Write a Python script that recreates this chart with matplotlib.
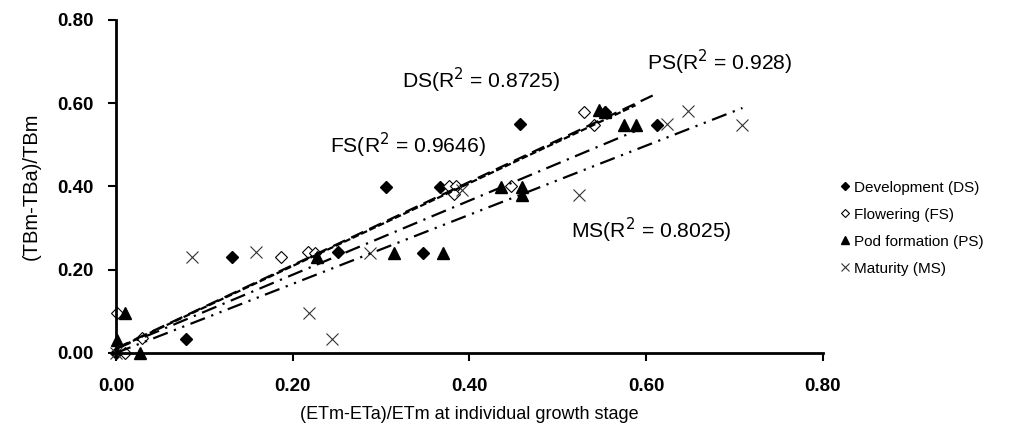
import matplotlib

matplotlib.use("Agg")
import matplotlib.pyplot as plt
import numpy as np

plt.rcParams["font.family"] = ["Liberation Sans", "DejaVu Sans"]

# observed points per growth stage: x = (ETm-ETa)/ETm, y = (TBm-TBa)/TBm
ds_x = [0.0, 0.079, 0.131, 0.251, 0.306, 0.347, 0.367, 0.457, 0.553, 0.612]
ds_y = [0.0, 0.033, 0.231, 0.243, 0.398, 0.239, 0.398, 0.549, 0.580, 0.547]

fs_x = [0.001, 0.010, 0.030, 0.187, 0.217, 0.225, 0.377, 0.385, 0.383, 0.447, 0.530, 0.541]
fs_y = [0.097, 0.000, 0.035, 0.231, 0.243, 0.240, 0.400, 0.400, 0.383, 0.400, 0.579, 0.547]

ps_x = [0.0015, 0.010, 0.027, 0.227, 0.315, 0.370, 0.436, 0.460, 0.460, 0.547, 0.553, 0.575, 0.589]
ps_y = [0.030, 0.096, 0.000, 0.231, 0.241, 0.239, 0.398, 0.398, 0.379, 0.583, 0.579, 0.547, 0.547]

ms_x = [0.0, 0.0855, 0.159, 0.219, 0.244, 0.287, 0.392, 0.524, 0.624, 0.647, 0.709]
ms_y = [0.0, 0.231, 0.243, 0.097, 0.033, 0.241, 0.391, 0.379, 0.551, 0.581, 0.547]

# linear trend lines: slope, intercept, x extent
trend_slope = {"DS": 1.00, "FS": 0.995, "PS": 0.89, "MS": 0.83}
trend_icpt = {"DS": 0.011, "FS": 0.010, "PS": 0.010, "MS": 0.0}
trend_xmax = {"DS": 0.611, "FS": 0.588, "PS": 0.589, "MS": 0.709}
r2_labels = {
    "DS": "DS(R$^2$ = 0.8725)",
    "FS": "FS(R$^2$ = 0.9646)",
    "PS": "PS(R$^2$ = 0.928)",
    "MS": "MS(R$^2$ = 0.8025)",
}
label_pos = {"DS": (0.324, 0.655), "FS": (0.242, 0.499), "PS": (0.601, 0.698), "MS": (0.515, 0.295)}

x_ticks = [0.0, 0.2, 0.4, 0.6, 0.8]
y_ticks = [0.0, 0.2, 0.4, 0.6, 0.8]

fig = plt.figure(figsize=(10.29, 4.32), dpi=100)
ax = fig.add_axes([0.1127, 0.1829, 0.687, 0.771])

ax.plot(ds_x, ds_y, "D", ms=6.5, color="black", mec="black", label="Development (DS)", clip_on=False)
ax.plot(fs_x, fs_y, "D", ms=6.5, mfc="white", mec="black", mew=0.8, label="Flowering (FS)", clip_on=False)
ax.plot(ps_x, ps_y, "^", ms=8, color="black", label="Pod formation (PS)", clip_on=False)
ax.plot(ms_x, ms_y, "x", ms=9, color="#333333", mew=0.8, label="Maturity (MS)", clip_on=False)

styles = {
    "DS": (0, (6, 3)),
    "FS": (0, (3, 1.2)),
    "PS": (0, (7, 3, 1, 3)),
    "MS": (0, (7, 3, 1, 3, 1, 3)),
}
for key in ["DS", "FS", "PS", "MS"]:
    xs = np.array([0.0, trend_xmax[key]])
    ys = trend_slope[key] * xs + trend_icpt[key]
    ax.plot(xs, ys, color="black", lw=1.6, linestyle=styles[key])
    tx, ty = label_pos[key]
    ax.text(tx, ty, r2_labels[key], fontsize=15.2, va="center", ha="left")

ax.set_xlim(0, 0.8)
ax.set_ylim(0, 0.8)
ax.set_xticks(x_ticks)
ax.set_yticks(y_ticks)
ax.set_xticklabels([f"{v:.2f}" for v in x_ticks], fontsize=13.5, fontweight="bold")
ax.set_yticklabels([f"{v:.2f}" for v in y_ticks], fontsize=13.5, fontweight="bold")
ax.tick_params(axis="both", direction="out", width=1.5, length=6, pad=10)
ax.tick_params(axis="x", pad=12)
for side in ["top", "right"]:
    ax.spines[side].set_visible(False)
for side in ["left", "bottom"]:
    ax.spines[side].set_linewidth(2)

ax.set_xlabel("(ETm-ETa)/ETm at individual growth stage", fontsize=13, labelpad=8)
ax.set_ylabel("(TBm-TBa)/TBm", fontsize=14.5, labelpad=12)

fig.legend(
    loc="center left",
    bbox_to_anchor=(0.800, 0.472),
    frameon=False,
    fontsize=11,
    handletextpad=0.1,
    handlelength=1.0,
    markerscale=0.7,
    labelspacing=0.85,
)

fig.savefig("out.png", dpi=100)
